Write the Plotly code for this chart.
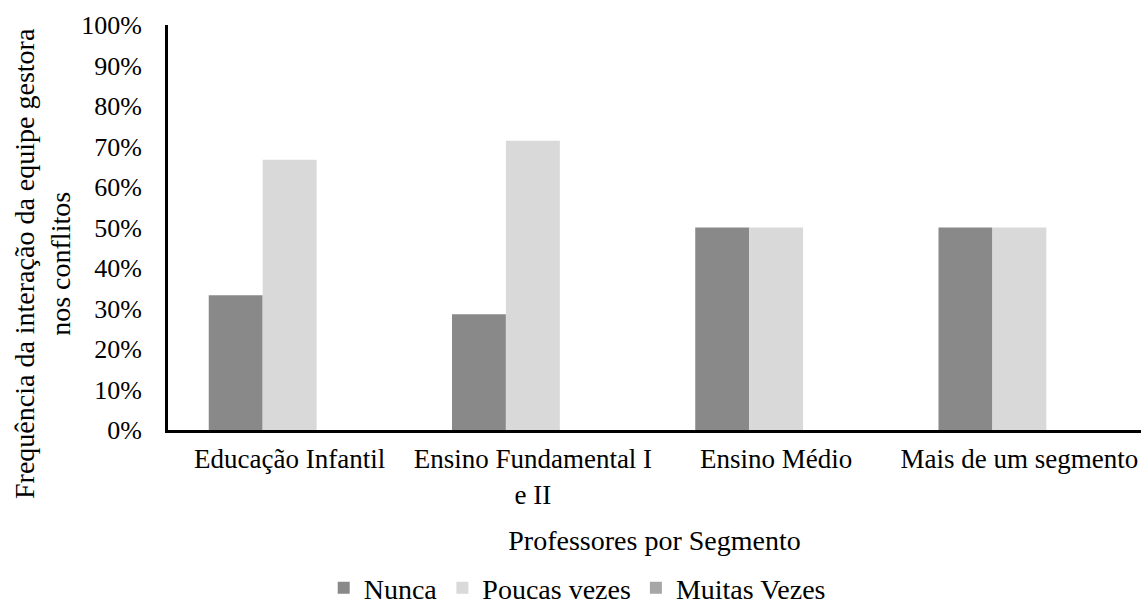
import plotly.graph_objects as go

categories = ["Educação Infantil", "Ensino Fundamental I<br>e II", "Ensino Médio", "Mais de um segmento"]
nunca = [0.333, 0.286, 0.50, 0.50]
poucas_vezes = [0.667, 0.714, 0.50, 0.50]
muitas_vezes = [0.0, 0.0, 0.0, 0.0]
y_ticks = [i / 10 for i in range(11)]
y_tick_labels = [f"{i * 10}%" for i in range(11)]

font_family = "Liberation Serif, Times New Roman, serif"

fig = go.Figure()
fig.add_bar(name="Nunca", x=categories, y=nunca, marker_color="#898989", marker_line_width=0)
fig.add_bar(name="Poucas vezes", x=categories, y=poucas_vezes, marker_color="#d9d9d9", marker_line_width=0)
fig.add_bar(name="Muitas Vezes", x=categories, y=muitas_vezes, marker_color="#a6a6a6", marker_line_width=0)

fig.update_layout(
    width=1143,
    height=613,
    barmode="group",
    bargap=0.335,
    bargroupgap=0,
    plot_bgcolor="white",
    paper_bgcolor="white",
    font=dict(family=font_family, size=27, color="black"),
    margin=dict(l=168, r=2, t=25, b=183),
    showlegend=True,
    legend=dict(
        orientation="h",
        xref="container",
        yref="container",
        x=0.505,
        xanchor="center",
        y=0.0,
        yanchor="bottom",
        font=dict(size=28),
        itemwidth=30,
        traceorder="normal",
    ),
    xaxis=dict(
        showline=True,
        linecolor="black",
        linewidth=3,
        ticks="",
        showgrid=False,
        tickfont=dict(size=27),
        ticklabelstandoff=3,
        title=dict(text="Professores por Segmento", font=dict(size=28), standoff=22),
    ),
    yaxis=dict(
        range=[0, 1.0],
        tickvals=y_ticks,
        ticktext=y_tick_labels,
        showline=True,
        linecolor="black",
        linewidth=3,
        ticks="",
        showgrid=False,
        zeroline=False,
        tickfont=dict(size=26),
        ticklabelstandoff=18,
    ),
    annotations=[
        dict(
            text="Frequência da interação da equipe gestora<br>nos conflitos",
            textangle=-90,
            xref="paper",
            yref="paper",
            x=(42 - 168) / 973,
            y=(430 - 264) / 405,
            xanchor="center",
            yanchor="middle",
            showarrow=False,
            font=dict(size=28),
        )
    ],
)

fig.write_html("out.html")
